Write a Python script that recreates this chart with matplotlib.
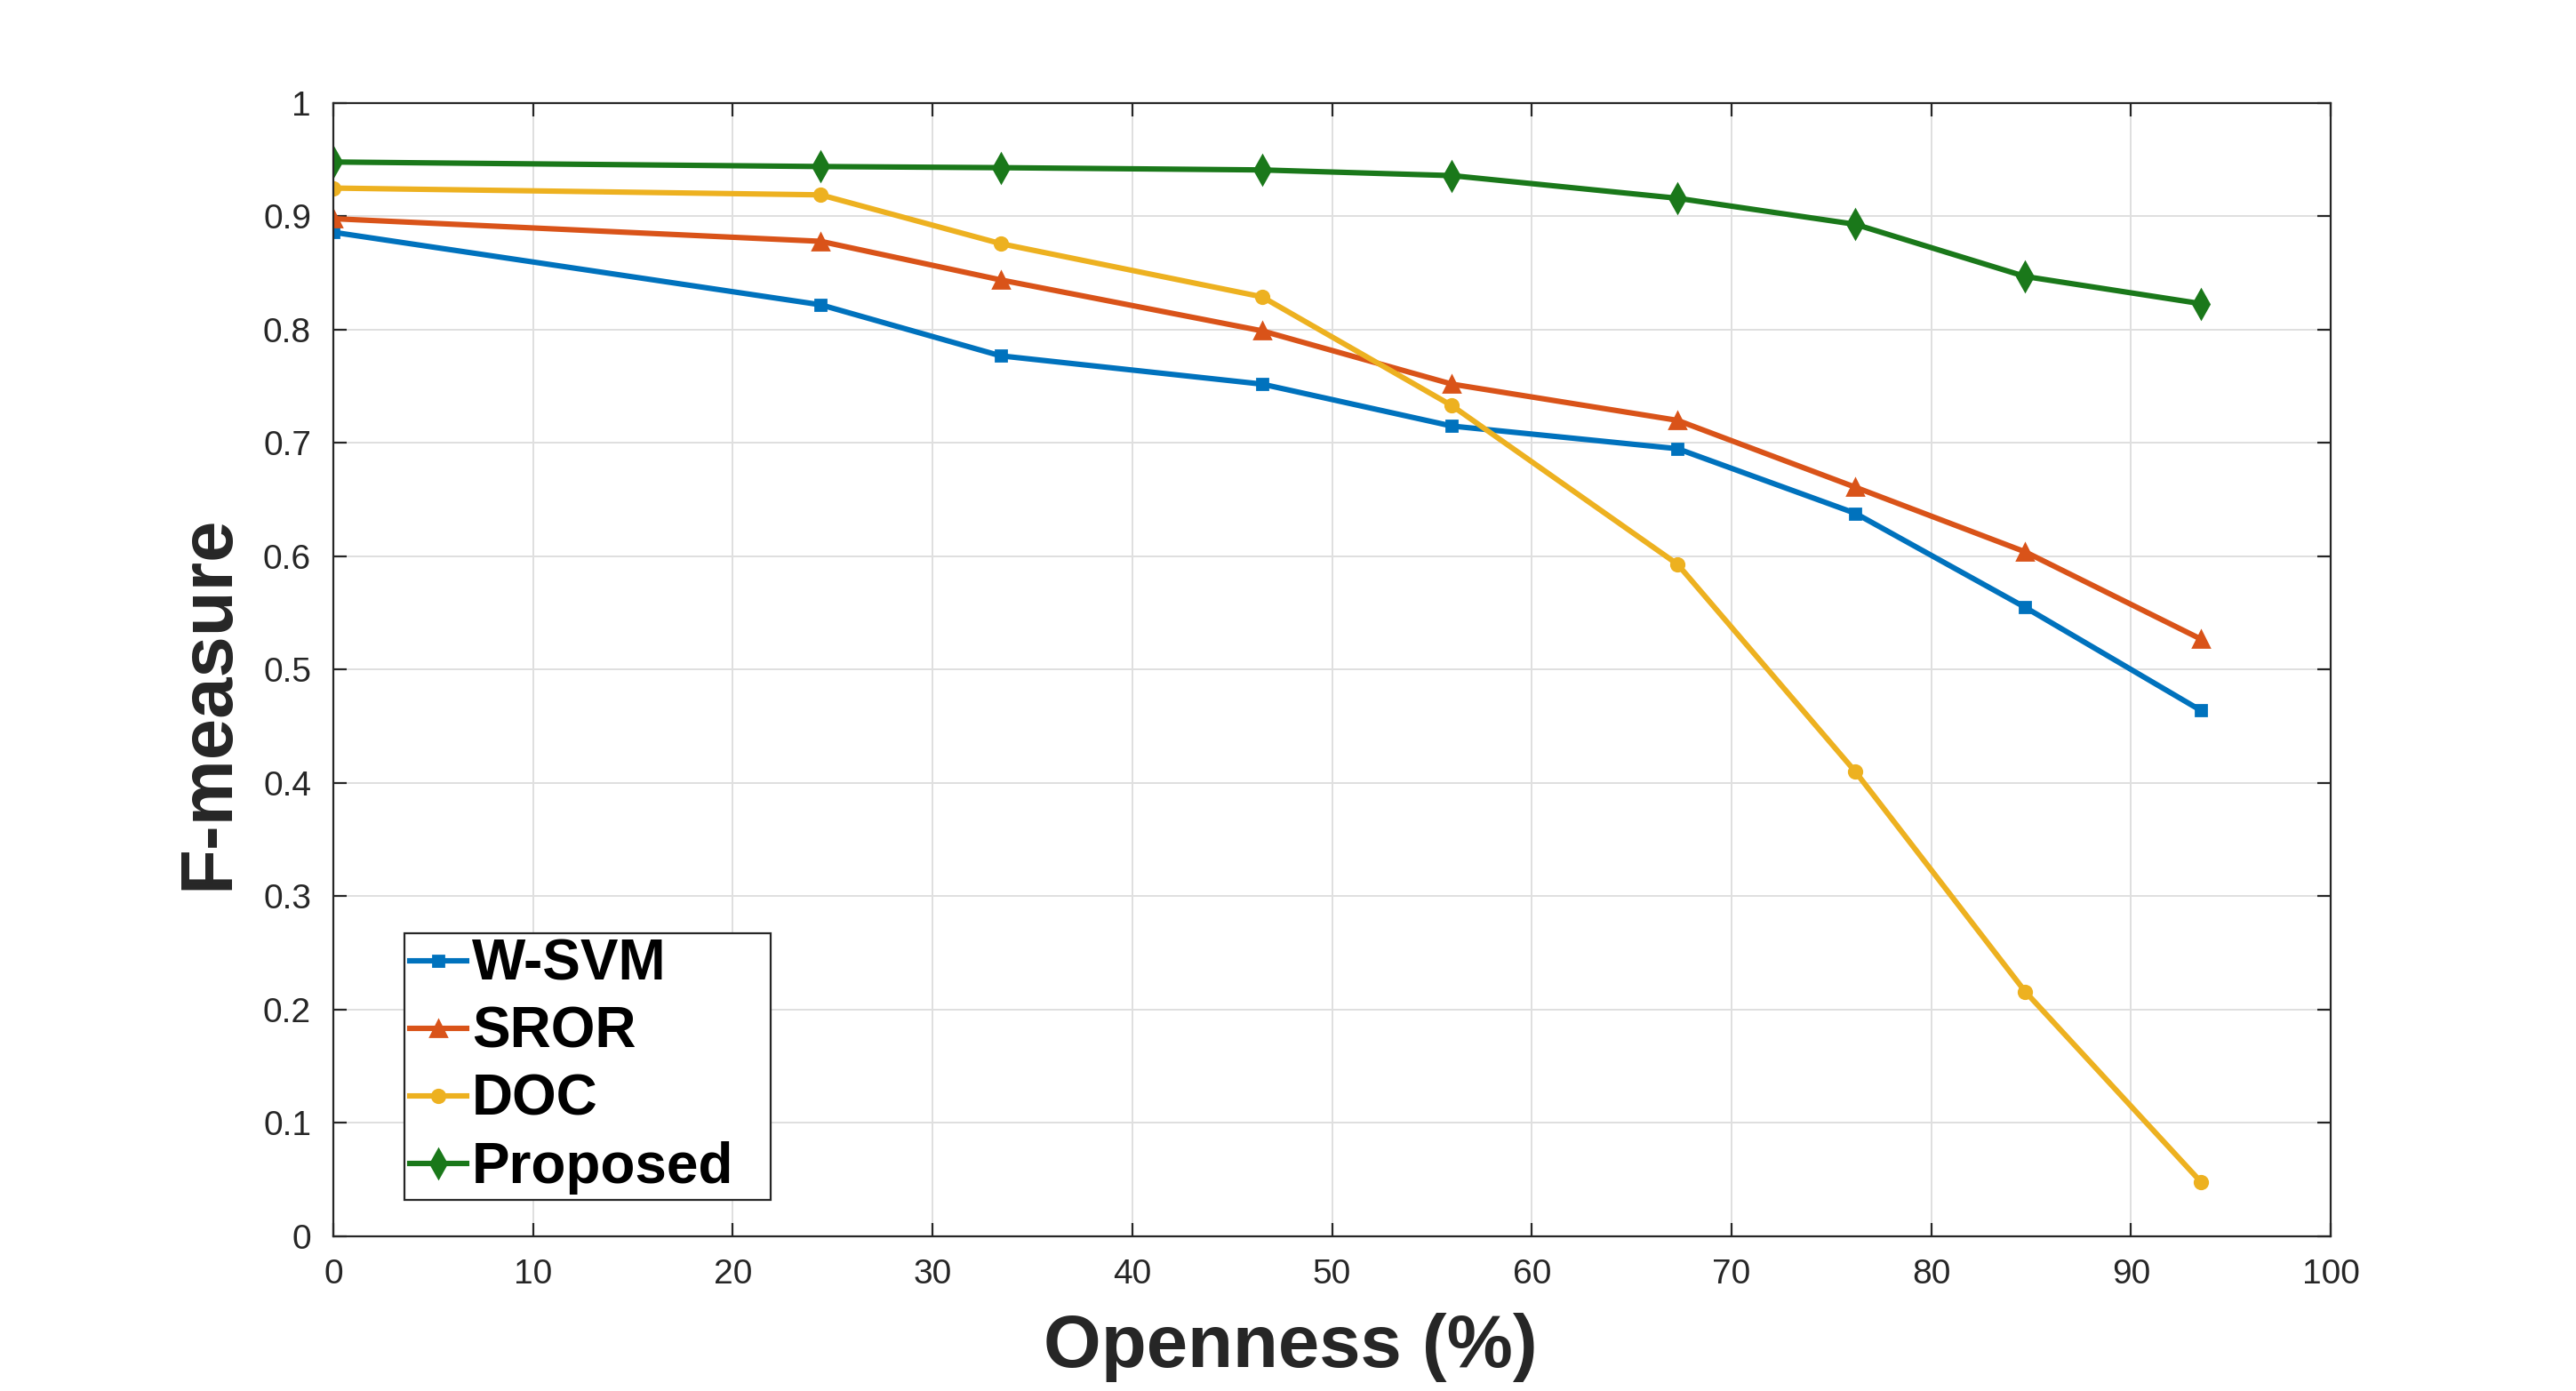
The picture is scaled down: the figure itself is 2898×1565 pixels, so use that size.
import matplotlib.pyplot as plt
from matplotlib.ticker import FuncFormatter

plt.rcParams['font.family'] = ['Liberation Sans', 'DejaVu Sans']

# ---------------- DATA ----------------
openness = [0, 24.4, 33.4, 46.5, 56.0, 67.3, 76.2, 84.7, 93.5]
wsvm = [0.886, 0.822, 0.777, 0.752, 0.715, 0.695, 0.638, 0.555, 0.464]
sror = [0.898, 0.878, 0.844, 0.799, 0.752, 0.720, 0.661, 0.604, 0.527]
doc = [0.925, 0.919, 0.876, 0.829, 0.733, 0.593, 0.410, 0.216, 0.048]
proposed = [0.948, 0.944, 0.943, 0.941, 0.936, 0.916, 0.893, 0.847, 0.823]

x_ticks = list(range(0, 101, 10))
y_ticks = [i / 10 for i in range(11)]

# ---------------- PLOT ----------------
fig = plt.figure(figsize=(14.49, 7.825), dpi=200)
ax = fig.add_axes([0.1294, 0.1112, 0.7754, 0.8147])

ax.plot(openness, wsvm, color="#0072BD", lw=2.2, marker="s", ms=4.5, label="W-SVM")
ax.plot(openness, sror, color="#D95319", lw=2.2, marker="^", ms=6.5, label="SROR")
ax.plot(openness, doc, color="#EDB120", lw=2.2, marker="o", ms=5.2, label="DOC")
ax.plot(openness, proposed, color="#1A781A", lw=2.2, marker="d", ms=8, label="Proposed")

ax.set_xlim(0, 100)
ax.set_ylim(0, 1)
ax.set_xticks(x_ticks)
ax.set_yticks(y_ticks)
ax.yaxis.set_major_formatter(FuncFormatter(lambda v, p: "%g" % v))

ax.grid(True, color="#dfdfdf", lw=0.7)
ax.set_axisbelow(True)
for s in ax.spines.values():
    s.set_color("#262626")
    s.set_linewidth(0.8)
ax.tick_params(direction="in", length=5.5, width=0.8, colors="#262626",
               labelsize=14, top=True, right=True)
ax.tick_params(axis="x", pad=9)
ax.tick_params(axis="y", pad=9)

ax.set_xlabel("Openness (%)", fontsize=30, fontweight="bold", color="#262626", labelpad=9)
ax.set_ylabel("F-measure", fontsize=30, fontweight="bold", color="#262626", labelpad=8)
ax.xaxis.label.set_x(0.479)
ax.yaxis.label.set_y(0.471)

leg = ax.legend(loc="lower left", bbox_to_anchor=(0.0354, 0.0319, 0.1834, 0.2406),
                mode="expand", borderaxespad=0,
                prop={"weight": "bold", "size": 23},
                handlelength=1.0, handletextpad=0.1, labelspacing=0.25,
                borderpad=0.1, fancybox=False, framealpha=1)
leg.get_frame().set_edgecolor("#262626")
leg.get_frame().set_linewidth(0.8)

plt.savefig("out.png", dpi=200)
